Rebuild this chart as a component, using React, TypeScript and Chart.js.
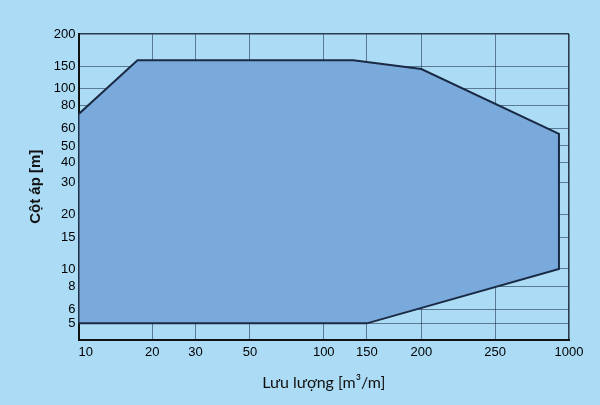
import React, { useEffect, useRef } from "react";
import { Chart, registerables } from "chart.js";

Chart.register(...registerables);

// Operating envelope (closed polygon), flow [m3/m] vs head [m]
const flowValues = [10, 17.4, 132, 250, 910, 910, 150, 10, 10];
const headValues = [72, 143, 143, 128, 56, 10, 5, 5, 72];

// Grid line positions and the labels printed on them
const xGridValues = [10, 20, 30, 50, 100, 150, 250, 500, 1000];
const xTickLabels = ["    10", "20", "30", "50", "100", "150", "200", "250", "1000"];
const yGridValues = [5, 6, 8, 10, 15, 20, 30, 39, 48, 60, 80, 100, 132, 200];
const yTickLabels = ["5", "6", "8", "10", "15", "20", "30", "40", "50", "60", "80", "100", "150", "200"];

const xMin = 10;
const xMax = 1000;
const yMin = 4.07;
const yMax = 200;

const xTitle = "Lưu lượng [m³/m]";
const yTitle = "Cột áp [m]";

const BG = "#acdcf5";

export default function App() {
  const ref = useRef<HTMLCanvasElement | null>(null);

  useEffect(() => {
    if (!ref.current) return;
    const points = flowValues.map((x, i) => ({ x, y: headValues[i] }));
    const gridColor = (n: number) => (ctx: any) =>
      ctx.index === n - 1 ? "rgba(20,30,45,0.85)" : "rgba(22,40,70,0.55)";
    const gridWidth = (n: number) => (ctx: any) => (ctx.index === n - 1 ? 1.6 : 1);

    const chart = new Chart(ref.current, {
      type: "scatter",
      data: {
        datasets: [
          {
            data: points,
            showLine: true,
            fill: "shape",
            tension: 0,
            pointRadius: 0,
            borderColor: "#1b2a44",
            borderWidth: 2,
            backgroundColor: "#7aaadb",
          } as any,
        ],
      },
      options: {
        animation: false,
        responsive: false,
        layout: { padding: { top: 34, right: 31, left: 0, bottom: 0 } },
        plugins: { legend: { display: false }, tooltip: { enabled: false } },
        scales: {
          x: {
            type: "logarithmic",
            min: xMin,
            max: xMax,
            z: 1,
            afterBuildTicks: (scale: any) => {
              scale.ticks = xGridValues.map((v) => ({ value: v }));
            },
            afterFit: (scale: any) => {
              scale.height = 65.5;
            },
            ticks: {
              autoSkip: false,
              maxRotation: 0,
              padding: 5,
              color: "#000",
              font: { family: "'Liberation Sans', Arial", size: 13 },
              callback: (_v: any, i: number) => xTickLabels[i],
            },
            grid: {
              drawTicks: false,
              color: gridColor(xGridValues.length),
              lineWidth: gridWidth(xGridValues.length),
            },
            border: { display: true, color: "#111", width: 2 },
            title: {
              display: true,
              text: xTitle,
              color: "#111",
              font: { family: "Lato", size: 16 },
              padding: { top: 0, bottom: 13 },
            },
          },
          y: {
            type: "logarithmic",
            min: yMin,
            max: yMax,
            z: 1,
            afterBuildTicks: (scale: any) => {
              scale.ticks = yGridValues.map((v) => ({ value: v }));
            },
            afterFit: (scale: any) => {
              scale.width = 78.5;
            },
            ticks: {
              autoSkip: false,
              padding: 3,
              color: "#000",
              font: { family: "'Liberation Sans', Arial", size: 13 },
              callback: (_v: any, i: number) => yTickLabels[i],
            },
            grid: {
              drawTicks: false,
              color: gridColor(yGridValues.length),
              lineWidth: gridWidth(yGridValues.length),
            },
            border: { display: true, color: "#111", width: 2 },
            title: {
              display: true,
              text: yTitle,
              color: "#111",
              font: { family: "'Liberation Sans', Arial", size: 15, weight: "bold" },
              padding: { top: 27, bottom: 0 },
            },
          },
        },
      },
    });
    return () => chart.destroy();
  }, []);

  return (
    <div
      style={{
        position: "absolute",
        left: 0,
        top: 0,
        width: 600,
        height: 405,
        background: BG,
      }}
    >
      <canvas ref={ref} width={600} height={405} />
    </div>
  );
}
